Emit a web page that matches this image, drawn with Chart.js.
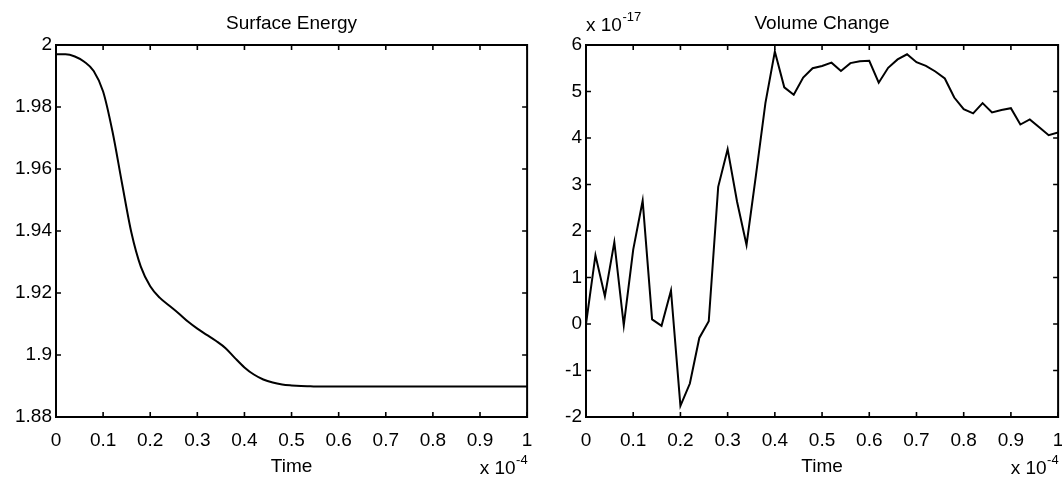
<!DOCTYPE html>
<html>
<head>
<meta charset="utf-8">
<script src="https://cdn.jsdelivr.net/npm/chart.js"></script>
<style>
  html, body { margin: 0; padding: 0; background: #fff; overflow: hidden; }
  .box { position: absolute; top: 0; height: 480px; }
  #leftBox { left: 0; width: 545px; }
  #rightBox { left: 531px; width: 545px; }
</style>
</head>
<body>
<div class="box" id="leftBox"><canvas id="energyChart"></canvas></div>
<div class="box" id="rightBox"><canvas id="volumeChart"></canvas></div>
<script>
// time in units of 1e-4
const time = [0, 0.02, 0.04, 0.06, 0.08, 0.1, 0.12, 0.14, 0.16, 0.18, 0.2, 0.22, 0.24, 0.26, 0.28, 0.3, 0.32,
  0.34, 0.36, 0.38, 0.4, 0.42, 0.44, 0.46, 0.48, 0.5, 0.52, 0.54, 0.56, 0.58, 0.6, 0.62, 0.64, 0.66, 0.68,
  0.7, 0.72, 0.74, 0.76, 0.78, 0.8, 0.82, 0.84, 0.86, 0.88, 0.9, 0.92, 0.94, 0.96, 0.98, 1];

const surfaceEnergy = [1.997, 1.997, 1.9963, 1.9946, 1.9916, 1.985, 1.972, 1.9555, 1.9395, 1.9285, 1.9222,
  1.9185, 1.916, 1.9135, 1.9108, 1.9085, 1.9065, 1.9045, 1.9022, 1.899, 1.896, 1.8937, 1.8921, 1.8911,
  1.8905, 1.8902, 1.89, 1.8899, 1.8898, 1.8898, 1.8898, 1.8898, 1.8898, 1.8898, 1.8898, 1.8898, 1.8898,
  1.8898, 1.8898, 1.8898, 1.8898, 1.8898, 1.8898, 1.8898, 1.8898, 1.8898, 1.8898, 1.8898, 1.8898, 1.8898,
  1.8898];

// in units of 1e-17
const volumeChange = [0, 1.48, 0.6, 1.76, -0.03, 1.6, 2.65, 0.1, -0.04, 0.72, -1.76, -1.28, -0.3, 0.06,
  2.95, 3.76, 2.63, 1.7, 3.2, 4.75, 5.86, 5.09, 4.93, 5.3, 5.5, 5.55, 5.62, 5.44, 5.61, 5.65, 5.66, 5.19,
  5.51, 5.69, 5.8, 5.63, 5.55, 5.43, 5.28, 4.87, 4.62, 4.53, 4.75, 4.55, 4.6, 4.64, 4.29, 4.4, 4.23, 4.06,
  4.12];

const timeTicks = [0, 0.1, 0.2, 0.3, 0.4, 0.5, 0.6, 0.7, 0.8, 0.9, 1];
const energyTicks = [1.88, 1.9, 1.92, 1.94, 1.96, 1.98, 2];
const volumeTicks = [-2, -1, 0, 1, 2, 3, 4, 5, 6];

const FONT = "'Liberation Sans', Arial, Helvetica, sans-serif";
Chart.defaults.font.family = FONT;
Chart.defaults.font.size = 19;
Chart.defaults.color = '#000';

function drawPower(ctx, x, y, exp, align) {
  ctx.font = '19px ' + FONT;
  let w1 = ctx.measureText('x 10').width;
  ctx.font = '13px ' + FONT;
  let w2 = ctx.measureText(exp).width;
  let start = align == 'right' ? x - w1 - w2 : x;
  ctx.textAlign = 'left';
  ctx.textBaseline = 'middle';
  ctx.font = '19px ' + FONT;
  ctx.fillText('x 10', start, y);
  ctx.font = '13px ' + FONT;
  ctx.fillText(exp, start + w1 + 0.5, y - 9);
}

// box, inward ticks on every side, and the exponent labels
const frameAndTicks = {
  id: 'frameAndTicks',
  afterDraw(chart, args, opts) {
    const { ctx, chartArea: a } = chart;
    const x = chart.scales.x;
    const y = chart.scales.y;
    ctx.save();
    ctx.strokeStyle = '#000';
    ctx.lineWidth = 1.6;
    ctx.beginPath();
    x.ticks.forEach((t) => {
      let px = x.getPixelForValue(t.value);
      ctx.moveTo(px, a.bottom);
      ctx.lineTo(px, a.bottom - 5);
      ctx.moveTo(px, a.top);
      ctx.lineTo(px, a.top + 5);
    });
    y.ticks.forEach((t) => {
      let py = y.getPixelForValue(t.value);
      ctx.moveTo(a.left, py);
      ctx.lineTo(a.left + 5, py);
      ctx.moveTo(a.right, py);
      ctx.lineTo(a.right - 5, py);
    });
    ctx.stroke();
    ctx.lineWidth = 2;
    ctx.strokeRect(a.left, a.top, a.right - a.left, a.bottom - a.top);
    ctx.fillStyle = '#000';
    drawPower(ctx, a.right, 469, opts.xExp, 'right');
    if (opts.yExp) {
      drawPower(ctx, a.left, 26, opts.yExp, 'left');
    }
    ctx.restore();
  },
};

function makeChart(id, title, values, yTicks, yWidth, yExp) {
  const ctx = document.getElementById(id);
  return new Chart(ctx, {
    type: 'line',
    data: {
      datasets: [
        {
          data: time.map((t, i) => ({ x: t, y: values[i] })),
          borderColor: '#000',
          borderWidth: 2,
          pointRadius: 0,
          cubicInterpolationMode: id == 'energyChart' ? 'monotone' : 'default',
          tension: 0,
        },
      ],
    },
    options: {
      responsive: true,
      maintainAspectRatio: false,
      animation: false,
      layout: { padding: { left: 0, right: 17, top: 0, bottom: 0 } },
      scales: {
        x: {
          type: 'linear',
          min: 0,
          max: 1,
          grid: { display: false, drawTicks: false },
          border: { display: false },
          afterBuildTicks: (scale) => {
            scale.ticks = timeTicks.map((v) => ({ value: v }));
          },
          afterFit: (scale) => {
            scale.height = 63;
          },
          ticks: {
            padding: 12.6,
            maxRotation: 0,
            autoSkip: false,
            callback: (v) => `${v}`,
          },
          title: { display: true, text: 'Time', padding: { top: 0, bottom: 1.6 } },
        },
        y: {
          min: yTicks[0],
          max: yTicks[yTicks.length - 1],
          grid: { display: false, drawTicks: false },
          border: { display: false },
          afterBuildTicks: (scale) => {
            scale.ticks = yTicks.map((v) => ({ value: v }));
          },
          afterFit: (scale) => {
            scale.width = yWidth;
          },
          ticks: {
            padding: 4,
            autoSkip: false,
            callback: (v) => `${v}`,
          },
        },
      },
      plugins: {
        legend: { display: false },
        tooltip: { enabled: false },
        title: {
          display: true,
          text: title,
          fullSize: false,
          color: '#000',
          font: { size: 19, weight: 'normal' },
          padding: { top: 12.6, bottom: 9.6 },
        },
        frameAndTicks: { xExp: '-4', yExp: yExp },
      },
    },
    plugins: [frameAndTicks],
  });
}

makeChart('energyChart', 'Surface Energy', surfaceEnergy, energyTicks, 56, null);
makeChart('volumeChart', 'Volume Change', volumeChange, volumeTicks, 55, '-17');
</script>
</body>
</html>
